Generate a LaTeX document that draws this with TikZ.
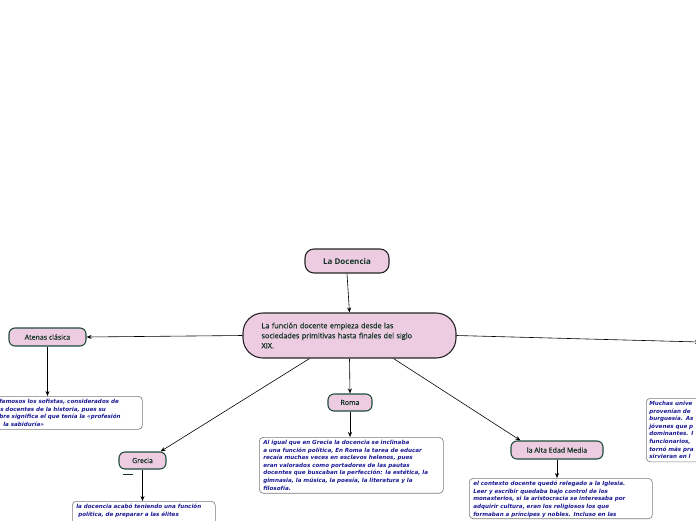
\documentclass[tikz,border=0pt]{standalone}
\usepackage{fontspec}
\setmainfont{Open Sans}
\newfontfamily\labelfont{Open Sans}[FakeBold=0.6]
\newfontfamily\notefont{DejaVu Sans}[BoldFont={DejaVu Sans Bold},
  ItalicFont={DejaVu Sans Oblique}, BoldItalicFont={DejaVu Sans Bold Oblique}]
\usetikzlibrary{arrows.meta, positioning, calc}
\definecolor{docPink}{HTML}{EDCBE0}
\definecolor{docEdge}{HTML}{1E4D3C}
\definecolor{docText}{HTML}{143428}
\definecolor{docBlue}{HTML}{1A1A96}
\definecolor{docGray}{HTML}{7A7A7A}
\tikzset{
  arrowK/.style={-{Stealth[length=5pt, width=4pt]}, black, line width=0.6pt},
  rootBox/.style={rectangle, rounded corners=9pt, draw=black!85, line width=1.1pt,
                  fill=docPink, text=docText, font=\bfseries\fontsize{8}{9}\selectfont,
                  minimum width=84pt, minimum height=24pt},
  mainBox/.style={rectangle, rounded corners=20pt, draw=black!85, line width=1.1pt,
                  fill=docPink, text=docText, align=left, text width=176pt,
                  font=\labelfont\fontsize{7.3}{10}\selectfont, minimum width=213pt, minimum height=45pt},
  topicBox/.style={rectangle, rounded corners=6pt, draw=docEdge, line width=1.1pt,
                   fill=docPink, text=docText, font=\labelfont\fontsize{7}{8}\selectfont,
                   inner xsep=6pt, minimum height=18pt},
  noteBox/.style={rectangle, rounded corners=4pt, draw=docGray, line width=0.6pt,
                  fill=white, text=docBlue, align=left, anchor=north west,
                  font=\notefont\bfseries\itshape\fontsize{5.6}{7.6}\selectfont,
                  inner xsep=4pt, inner ysep=3pt},
}
\begin{document}
\begin{tikzpicture}[x=1pt, y=-1pt]
  \useasboundingbox (0,0) rectangle (696,520);
  \clip (0,0) rectangle (696,520);

  % central nodes
  \node[rootBox] (docencia) at (347,261) {La Docencia};
  \node[mainBox] (funcion) at (349.5,335.5)
    {La función docente empieza desde las\\sociedades primitivas hasta finales del siglo\\XIX.};

  % topics
  \node[topicBox, minimum width=77pt] (atenas) at (47.5,337) {Atenas clásica};
  \node[topicBox, minimum width=44pt, minimum height=17pt] (roma) at (350,402.5) {Roma};
  \node[topicBox, minimum width=47pt, minimum height=17pt] (grecia) at (142.5,460.5) {Grecia};
  \node[topicBox, minimum width=92pt] (alta) at (557,450) {la Alta Edad Media};
  \coordinate (derecha) at (700,342);

  % notes
  \node[noteBox, text width=139pt] (atenasNota) at (-5,396)
    {famosos los sofistas, considerados de\\
     \hspace{1pt}s docentes de la historia, pues su\\
     bre significa el que tenía la «profesión\\
     \hspace{4pt}la sabiduría»};
  \node[noteBox, text width=176pt] (romaNota) at (259,437)
    {Al igual que en Grecia la docencia se inclinaba\\
     a una función política, En Roma la tarea de educar\\
     recaía muchas veces en esclavos helenos, pues\\
     eran valorados como portadores de las pautas\\
     docentes que buscaban la perfección: la estética, la\\
     gimnasia, la música, la poesía, la literatura y la\\
     filosofía.};
  \node[noteBox, text width=135pt, text depth=30pt] (greciaNota) at (72,501)
    {la docencia acabó teniendo una función\\
     \hspace{2pt}política, de preparar a las élites};
  \node[noteBox, text width=175pt, text depth=30pt] (altaNota) at (469,478)
    {el contexto docente quedó relegado a la Iglesia.\\
     Leer y escribir quedaba bajo control de los\\
     monasterios, si la aristocracia se interesaba por\\
     adquirir cultura, eran los religiosos los que\\
     formaban a príncipes y nobles. Incluso en las};
  \node[noteBox, text width=80pt, inner xsep=3pt] (derechaNota) at (646,398)
    {Muchas unive\\provenían de\\burguesía. As\\jóvenes que p\\dominantes. I\\
     funcionarios,\\tornó más pra\\sirvieran en l};

  % connectors
  \draw[arrowK] (docencia.south) -- (funcion.north);
  \draw[arrowK] (funcion.west) -- (atenas.east);
  \draw[arrowK] (funcion.south) -- (roma.north);
  \draw[arrowK] ($(funcion.south)+(-40,0)$) -- ($(grecia.north east)+(-6,0)$);
  \draw[arrowK] ($(funcion.south)+(44,0)$) -- ($(alta.north west)+(10,0)$);
  \draw[arrowK] (funcion.east) -- (derecha);
  \draw[arrowK] (atenas.south) -- (atenas.south |- atenasNota.north);
  \draw[arrowK] (roma.south) -- (roma.south |- romaNota.north);
  \draw[arrowK] (grecia.south) -- (grecia.south |- greciaNota.north);
  \draw[arrowK] (alta.south) -- (alta.south |- altaNota.north);

  % collapse mark under Grecia
  \draw[docText, line width=1.5pt] ($(grecia.south west)+(5,5)$) -- ++(10,0);
\end{tikzpicture}
\end{document}
